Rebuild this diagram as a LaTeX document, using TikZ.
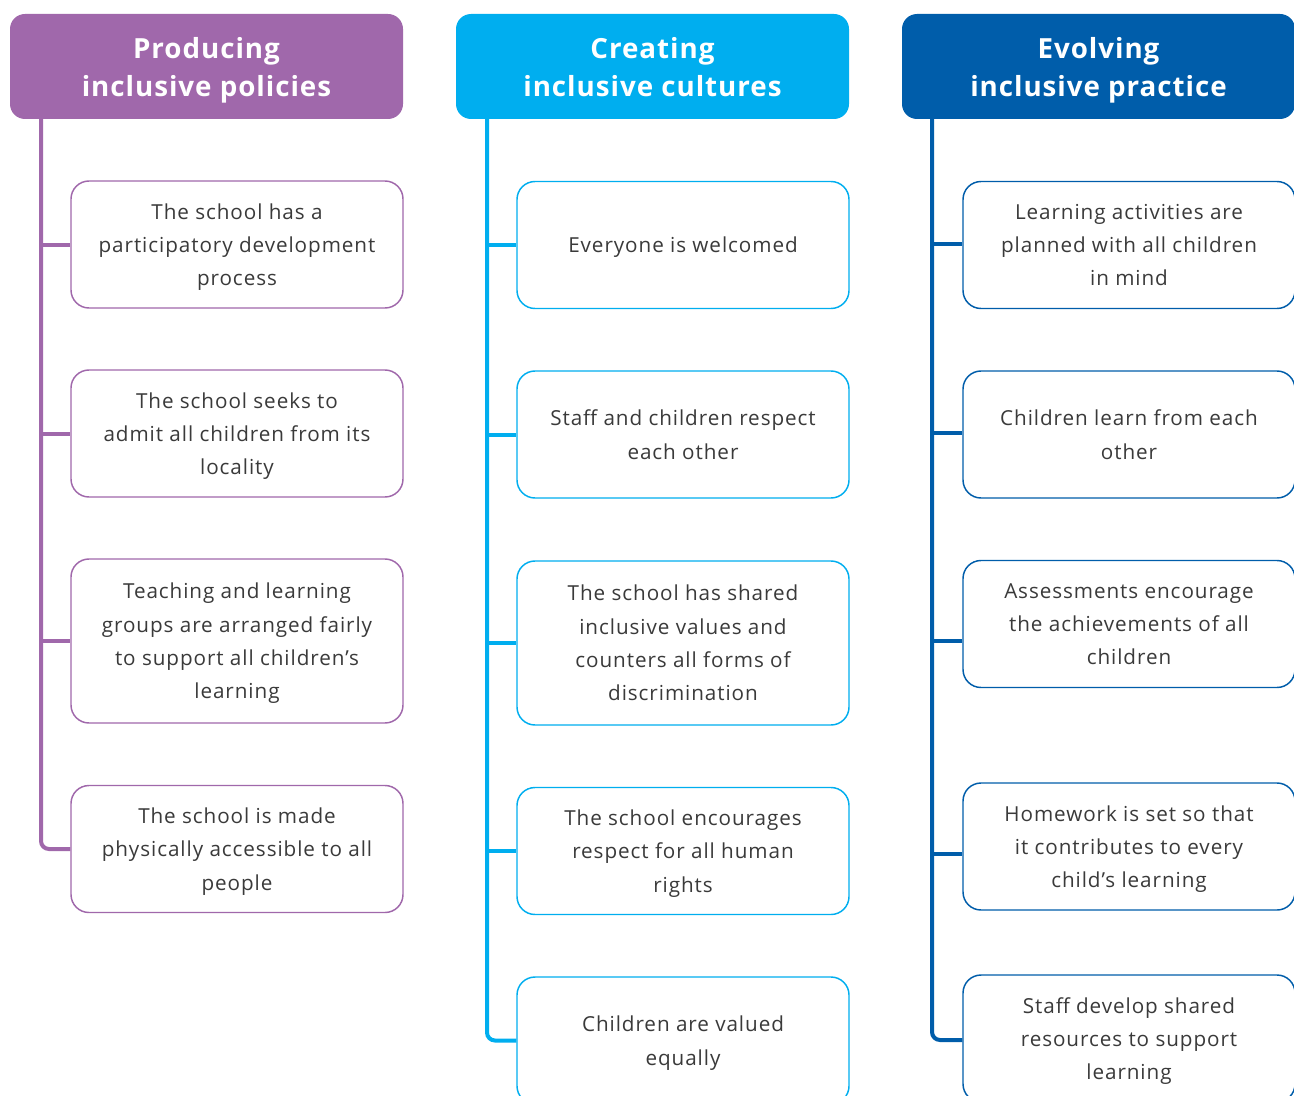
\documentclass[tikz,border=0pt]{standalone}
\usepackage{fontspec}
\setmainfont{Open Sans}[LetterSpace=4.5]
\newfontfamily\headfont{Open Sans}[LetterSpace=3.5]
\definecolor{cpurple}{HTML}{A068AB}
\definecolor{clight}{HTML}{00AEEF}
\definecolor{cdark}{HTML}{005DAA}
\definecolor{ctext}{HTML}{3A3A3A}
\tikzset{
  headbox/.style={rounded corners=11.25pt, minimum width=294.75pt, minimum height=78.75pt,
    text=white, align=center, inner sep=0pt, text depth=-4pt,
    font=\headfont\bfseries\fontsize{20.8}{28.5}\selectfont},
  itembox/.style={draw, line width=1.1pt, rounded corners=13.5pt, fill=white,
    minimum width=249pt, minimum height=95.25pt, align=center, inner sep=0pt,
    text depth=-4.2pt,
    text=ctext, font=\fontsize{15.5}{25}\selectfont},
  tallbox/.style={itembox, minimum height=123pt},
  trunk/.style={line width=3pt, rounded corners=6pt},
  branch/.style={line width=3pt}
}
\begin{document}
\begin{tikzpicture}[x=0.75pt,y=-0.75pt]
\useasboundingbox (0,0) rectangle (1294,1095);
\clip (0,0) rectangle (1294,1095);

% headers
\node[headbox, fill=cpurple] (h1) at (206.5,66.5) {Producing\\inclusive policies};
\node[headbox, fill=clight] (h2) at (652.5,66.5) {Creating\\inclusive cultures};
\node[headbox, fill=cdark] (h3) at (1098.5,66.5) {Evolving\\inclusive practice};

% trunk tops
\coordinate (t1) at (41,119);
\coordinate (t2) at (487,119);
\coordinate (t3) at (932,119);

% branch levels
\coordinate (y1) at (0,244);
\coordinate (y2) at (0,433);
\coordinate (y3) at (0,641);
\coordinate (y4) at (0,854);
\coordinate (y5) at (0,1040);

% column 1
\node[itembox, draw=cpurple] (a1) at (237,244.5) {The school has a\\participatory development\\process};
\node[itembox, draw=cpurple] (a2) at (237,433.5) {The school seeks to\\admit all children from its\\locality};
\node[tallbox, draw=cpurple] (a3) at (237,641) {Teaching and learning\\groups are arranged fairly\\to support all children’s\\learning};
\node[itembox, draw=cpurple] (a4) at (237,849) {The school is made\\physically accessible to all\\people};

% column 2
\node[itembox, draw=clight] (b1) at (683,245) {Everyone is welcomed};
\node[itembox, draw=clight] (b2) at (683,434.5) {Staff and children respect\\each other};
\node[tallbox, draw=clight] (b3) at (683,643) {The school has shared\\inclusive values and\\counters all forms of\\discrimination};
\node[itembox, draw=clight] (b4) at (683,851) {The school encourages\\respect for all human\\rights};
\node[itembox, draw=clight] (b5) at (683,1040.5) {Children are valued\\equally};

% column 3
\node[itembox, draw=cdark] (c1) at (1129,245) {Learning activities are\\planned with all children\\in mind};
\node[itembox, draw=cdark] (c2) at (1129,434.5) {Children learn from each\\other};
\node[itembox, draw=cdark] (c3) at (1129,624) {Assessments encourage\\the achievements of all\\children};
\node[itembox, draw=cdark] (c4) at (1129,846.5) {Homework is set so that\\it contributes to every\\child’s learning};
\node[itembox, draw=cdark] (c5) at (1129,1038.5) {Staff develop shared\\resources to support\\learning};

% connectors column 1
\draw[trunk, cpurple] (t1) |- (a4.west);
\draw[branch, cpurple] (t1 |- a1.west) -- (a1.west);
\draw[branch, cpurple] (t1 |- a2.west) -- (a2.west);
\draw[branch, cpurple] (t1 |- a3.west) -- (a3.west);

% connectors column 2
\draw[trunk, clight] (t2) |- (b5.west);
\draw[branch, clight] (t2 |- b1.west) -- (b1.west);
\draw[branch, clight] (t2 |- b2.west) -- (b2.west);
\draw[branch, clight] (t2 |- b3.west) -- (b3.west);
\draw[branch, clight] (t2 |- b4.west) -- (b4.west);

% connectors column 3
\draw[trunk, cdark] (t3) |- (c5.west |- y5);
\draw[branch, cdark] (t3 |- y1) -- (c1.west |- y1);
\draw[branch, cdark] (t3 |- y2) -- (c2.west |- y2);
\draw[branch, cdark] (t3 |- y3) -- (c3.west |- y3);
\draw[branch, cdark] (t3 |- y4) -- (c4.west |- y4);
\end{tikzpicture}
\end{document}
